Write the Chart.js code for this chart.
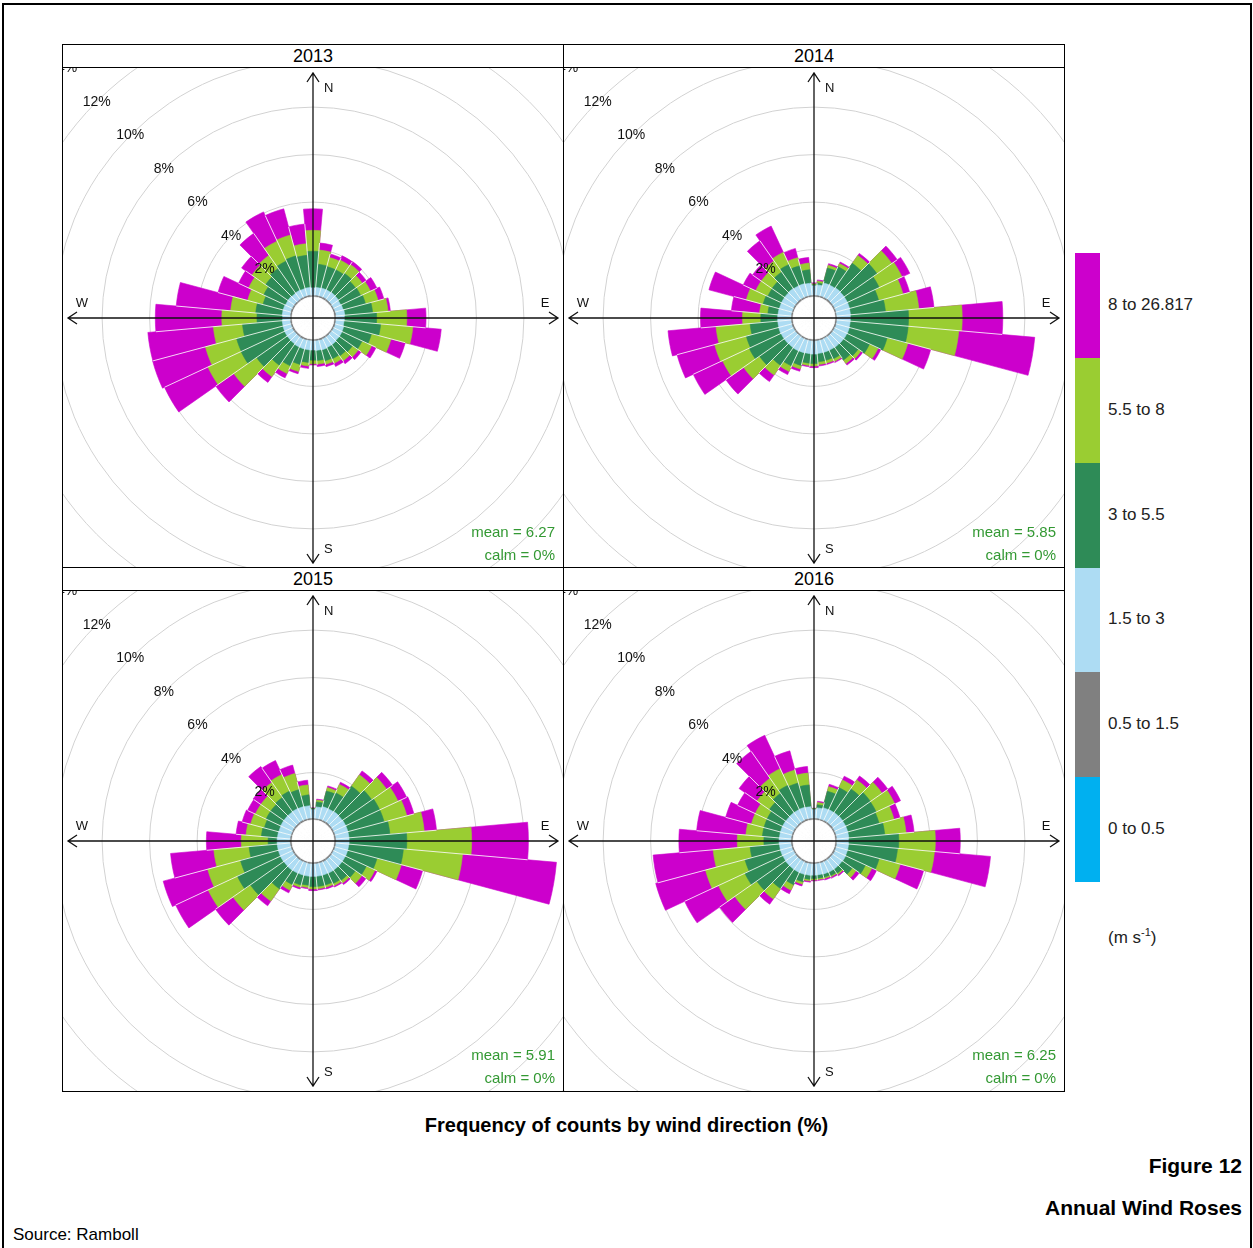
<!DOCTYPE html>
<html>
<head>
<meta charset="utf-8">
<title>Annual Wind Roses</title>
<script src="https://cdn.jsdelivr.net/npm/chart.js@4.4.1/dist/chart.umd.min.js"></script>
<style>
  html, body { margin: 0; padding: 0; background: #fff; }
  body { position: relative; width: 1253px; height: 1248px; overflow: hidden;
         font-family: "Liberation Sans", Arial, sans-serif; color: #000; }
  #frame { position: absolute; left: 2px; top: 3px; width: 1250px; height: 1300px;
           border: 2px solid #000; box-sizing: border-box; }
  .strip { position: absolute; width: 502px; height: 24px; border: 1px solid #000; box-sizing: border-box;
           text-align: center; font-size: 18px; line-height: 22px; background: #fff; }
  .plot { position: absolute; width: 502px; border: 1px solid #000; box-sizing: border-box;
          overflow: hidden; background: #fff; }
  .plot canvas { position: absolute; left: -130px; top: -130px; }
  .key { position: absolute; left: 1075px; width: 25px; }
  .keylab { position: absolute; left: 1108px; font-size: 17px; color: #222; transform: translateY(-50%); white-space: nowrap; }
  #title { position: absolute; left: 0; width: 1253px; top: 1114px; text-align: center; font-size: 20px; font-weight: bold; }
  .fig { position: absolute; right: 11px; font-size: 21px; font-weight: bold; text-align: right; }
  #source { position: absolute; left: 13px; top: 1225px; font-size: 17px; }
</style>
</head>
<body>
<div id="frame"></div>
<div id="panels"></div>
<div id="legend"></div>
<div id="title">Frequency of counts by wind direction (%)</div>
<div class="fig" style="top:1154px">Figure 12</div>
<div class="fig" style="top:1196px">Annual Wind Roses</div>
<div id="source">Source: Ramboll</div>

<script>
// wind directions (degrees, clockwise from north), 10 degree bins
const DIRECTIONS = [0, 10, 20, 30, 40, 50, 60, 70, 80, 90, 100, 110, 120, 130, 140, 150, 160, 170,
                    180, 190, 200, 210, 220, 230, 240, 250, 260, 270, 280, 290, 300, 310, 320, 330, 340, 350];

const YEARS = ["2013", "2014", "2015", "2016"];
const MEAN_SPEED = ["6.27", "5.85", "5.91", "6.25"];
const CALM_PCT = ["0", "0", "0", "0"];

// speed bins (m/s), legend order bottom -> top
const BIN_LABELS = ["0 to 0.5", "0.5 to 1.5", "1.5 to 3", "3 to 5.5", "5.5 to 8", "8 to 26.817"];
const BIN_COLORS = ["#00b0f0", "#808080", "#addcf3", "#2e8b57", "#9acd32", "#cc00cc"];

// percentage rings
const RING_TICKS = [2, 4, 6, 8, 10, 12, 14];

// frequency (%) per direction and speed bin
const Y2013_GREY  = [.06,.07,.07,.08,.07,.07,.06,.07,.08,.07,.07,.08,.07,.06,.07,.07,.08,.07,.07,.06,.07,.08,.07,.07,.08,.07,.07,.06,.07,.08,.07,.07,.06,.07,.07,.08];
const Y2013_BLUE  = [.33,.34,.36,.35,.37,.36,.35,.36,.38,.37,.36,.38,.40,.41,.42,.42,.43,.42,.40,.41,.40,.39,.38,.37,.36,.36,.35,.34,.35,.34,.33,.34,.33,.34,.33,.33];
const Y2013_DKGRN = [1.54,.98,.93,.93,.98,.88,.93,.98,1.18,1.36,1.55,1.21,.93,.68,.58,.53,.48,.43,.43,.53,.68,.88,1.11,1.58,2.02,2.02,1.68,1.08,1.12,.88,1.01,1.15,1.28,1.36,1.43,1.36];
const Y2013_LTGRN = [.88,.60,.40,.45,.45,.35,.45,.55,.65,1.27,1.36,.85,.45,.30,.25,.20,.15,.15,.15,.15,.30,.35,.57,1.17,1.54,1.36,1.23,1.48,1.06,.67,.70,.70,.67,.92,.91,.49];
const Y2013_MAG   = [.91,.30,.15,.20,.15,.20,.30,.25,.10,.81,1.20,.62,.20,.15,.15,.15,.10,.10,.05,.10,.10,.20,.30,.93,2.02,2.30,2.77,2.80,2.30,1.29,.47,.53,1.13,1.36,1.14,.83];

const Y2014_GREY  = [.07,.07,.07,.07,.08,.07,.07,.07,.06,.07,.07,.08,.07,.07,.07,.06,.07,.07,.08,.07,.07,.07,.06,.07,.07,.08,.07,.07,.07,.06,.07,.07,.08,.07,.07,.07];
const Y2014_BLUE  = [.41,.45,.58,.58,.60,.60,.60,.60,.60,.58,.58,.58,.58,.57,.56,.56,.55,.55,.56,.56,.57,.58,.58,.58,.58,.58,.58,.58,.57,.57,.56,.56,.56,.55,.55,.52];
const Y2014_DKGRN = [.04,.08,.65,.85,1.25,1.69,1.48,1.27,1.48,2.45,2.45,1.65,1.05,.75,.65,.40,.35,.35,.40,.40,.55,.70,.92,1.27,1.48,1.41,1.17,.71,.43,.71,.64,.65,.85,.99,.78,.57];
const Y2014_LTGRN = [.04,.08,.12,.15,.40,.76,1.06,1.06,1.41,2.26,2.14,.90,.40,.15,.18,.12,.12,.12,.10,.10,.15,.25,.49,.82,1.24,1.38,1.44,.77,.35,.73,.56,.55,.56,.56,.35,.28];
const Y2014_MAG   = [.04,.05,.07,.07,.11,.28,.36,.29,.64,1.71,3.21,1.00,.13,.09,.08,.05,.06,.06,.07,.05,.10,.15,.34,.91,1.36,1.64,2.03,1.77,1.19,1.63,.58,.45,1.04,1.22,.40,.24];

const Y2015_GREY  = [.07,.06,.07,.07,.08,.07,.07,.07,.07,.08,.07,.07,.06,.07,.07,.08,.07,.07,.07,.07,.06,.07,.08,.07,.07,.07,.07,.08,.07,.06,.07,.07,.07,.08,.07,.07];
const Y2015_BLUE  = [.38,.50,.55,.55,.56,.56,.57,.57,.57,.56,.56,.56,.56,.55,.55,.54,.54,.54,.54,.54,.55,.55,.55,.55,.56,.56,.56,.55,.55,.55,.55,.55,.55,.55,.55,.54];
const Y2015_DKGRN = [.03,.21,.68,.74,1.30,1.51,1.58,1.58,1.73,2.43,2.31,1.28,.98,.68,.53,.48,.43,.43,.43,.38,.43,.53,.95,1.72,2.00,1.65,1.19,.38,.68,.63,.68,.68,.74,.81,.74,.46];
const Y2015_LTGRN = [.02,.08,.15,.39,.58,.77,.85,.99,1.45,2.73,2.50,1.06,.40,.34,.13,.10,.10,.10,.10,.10,.10,.25,.63,.89,1.36,1.43,1.49,1.13,.65,.60,.50,.50,.77,.77,.70,.42];
const Y2015_MAG   = [.02,.04,.07,.10,.20,.30,.40,.31,.52,2.39,3.97,.93,.10,.21,.08,.06,.07,.05,.07,.05,.07,.13,.24,.90,1.51,1.94,1.83,1.47,.42,.37,.36,.40,.82,.65,.37,.20];

const Y2016_GREY  = [.07,.07,.06,.07,.07,.08,.07,.07,.07,.06,.07,.07,.08,.07,.07,.07,.07,.06,.07,.07,.08,.07,.07,.07,.06,.07,.07,.08,.07,.07,.07,.06,.07,.07,.08,.07];
const Y2016_BLUE  = [.38,.45,.51,.51,.52,.52,.52,.52,.52,.51,.51,.51,.51,.50,.50,.50,.49,.49,.49,.50,.50,.51,.51,.51,.51,.51,.51,.51,.51,.51,.51,.51,.51,.51,.51,.50];
const Y2016_DKGRN = [.02,.13,.72,1.02,1.22,1.42,1.42,1.37,1.52,2.12,2.07,1.38,.92,.52,.22,.17,.14,.14,.14,.17,.32,.57,.99,1.48,1.76,1.55,1.24,.64,.72,.72,.72,.85,.99,1.13,1.06,.92];
const Y2016_LTGRN = [.02,.10,.20,.35,.45,.60,.85,.65,.90,1.54,1.56,.92,.30,.20,.06,.05,.06,.06,.06,.07,.10,.25,.53,1.13,1.23,1.72,1.56,1.12,.70,.55,.55,.63,.77,.77,.56,.50];
const Y2016_MAG   = [.01,.05,.10,.18,.20,.30,.28,.26,.34,1.05,2.37,1.02,.22,.16,.06,.06,.06,.04,.04,.05,.08,.17,.27,.78,1.57,2.17,2.54,2.46,2.08,1.12,.82,.92,1.39,1.55,.84,.28];

const ROSE_BINS = [
  [Y2013_GREY, Y2013_BLUE, Y2013_DKGRN, Y2013_LTGRN, Y2013_MAG],
  [Y2014_GREY, Y2014_BLUE, Y2014_DKGRN, Y2014_LTGRN, Y2014_MAG],
  [Y2015_GREY, Y2015_BLUE, Y2015_DKGRN, Y2015_LTGRN, Y2015_MAG],
  [Y2016_GREY, Y2016_BLUE, Y2016_DKGRN, Y2016_LTGRN, Y2016_MAG]
];

// radial axis: a small offset below 0 leaves the white hole in the middle
const R_MIN = -0.88;
const R_MAX = 15.12;
const CANVAS = 760;
const ARROW = 245;

Chart.defaults.font.family = '"Liberation Sans", Arial, sans-serif';

const roseDecor = {
  id: "roseDecor",
  afterDatasetsDraw(chart, args, opts) {
    const ctx = chart.ctx;
    const r = chart.scales.r;
    const cx = r.xCenter, cy = r.yCenter;
    const sets = chart.data.datasets.length;
    const inner = chart.getDatasetMeta(1).data;
    const outer = chart.getDatasetMeta(sets - 1).data;
    const n = outer.length;

    // thin white lines between the direction wedges
    ctx.save();
    ctx.strokeStyle = "rgba(255,255,255,0.9)";
    ctx.lineWidth = 0.9;
    for (let i = 0; i < n; i++) {
      const a = outer[i].startAngle;
      const from = inner[i].outerRadius;
      const len = Math.min(outer[i].outerRadius, outer[(i + n - 1) % n].outerRadius);
      ctx.beginPath();
      ctx.moveTo(cx + from * Math.cos(a), cy + from * Math.sin(a));
      ctx.lineTo(cx + len * Math.cos(a), cy + len * Math.sin(a));
      ctx.stroke();
    }

    // compass axes with open arrow heads
    ctx.strokeStyle = "#111";
    ctx.lineWidth = 1.3;
    [[0, -1], [1, 0], [0, 1], [-1, 0]].forEach(([dx, dy]) => {
      const tx = cx + dx * ARROW, ty = cy + dy * ARROW;
      const px = -dy, py = dx;
      ctx.beginPath();
      ctx.moveTo(cx, cy);
      ctx.lineTo(tx, ty);
      ctx.moveTo(tx - dx * 9 + px * 6, ty - dy * 9 + py * 6);
      ctx.lineTo(tx, ty);
      ctx.lineTo(tx - dx * 9 - px * 6, ty - dy * 9 - py * 6);
      ctx.stroke();
    });

    ctx.fillStyle = "#111";
    ctx.font = '13px "Liberation Sans", Arial, sans-serif';
    ctx.textBaseline = "middle";
    ctx.textAlign = "left";
    ctx.fillText("N", cx + 11, cy - ARROW + 15);
    ctx.fillText("S", cx + 11, cy + ARROW - 14);
    ctx.textAlign = "center";
    ctx.fillText("E", cx + ARROW - 13, cy - 15);
    ctx.fillText("W", cx - ARROW + 14, cy - 15);

    // percentage labels along the north-west diagonal
    ctx.font = '14px "Liberation Sans", Arial, sans-serif';
    RING_TICKS.forEach(v => {
      const d = r.getDistanceFromCenterForValue(v) / Math.SQRT2;
      ctx.fillText(v + "%", cx - d, cy - d);
    });

    // mean / calm note
    ctx.fillStyle = "#339933";
    ctx.font = '15px "Liberation Sans", Arial, sans-serif';
    ctx.textAlign = "right";
    ctx.textBaseline = "alphabetic";
    ctx.fillText("mean = " + opts.mean, cx + 242, cy + 219);
    ctx.fillText("calm = " + opts.calm + "%", cx + 242, cy + 242);
    ctx.restore();
  }
};

function drawRose(canvas, bins, mean, calm) {
  // polarArea arcs start at the centre, so the bins are stacked as running totals
  // and drawn with the smallest total on top
  let run = DIRECTIONS.map(() => 0);
  const layers = bins.map((bin, k) => {
    run = run.map((s, i) => s + bin[i]);
    const col = BIN_COLORS[k + 1];
    return { label: BIN_LABELS[k + 1], data: run, backgroundColor: col, borderColor: col, borderWidth: 0.6 };
  });
  const hole = { label: "hole", data: DIRECTIONS.map(() => 0), backgroundColor: "#fff", borderColor: "#fff", borderWidth: 1 };

  return new Chart(canvas.getContext("2d"), {
    type: "polarArea",
    data: { labels: DIRECTIONS.map(d => d + "°"), datasets: [hole, ...layers] },
    options: {
      responsive: false,
      animation: false,
      events: [],
      layout: { padding: 0 },
      plugins: { legend: { display: false }, tooltip: { enabled: false }, roseDecor: { mean, calm } },
      scales: {
        r: {
          min: R_MIN,
          max: R_MAX,
          startAngle: -5,
          ticks: { display: false },
          grid: { color: "#d2d2d2", lineWidth: 1, circular: true },
          angleLines: { display: false },
          pointLabels: { display: false },
          afterBuildTicks: s => { s.ticks = RING_TICKS.map(v => ({ value: v })); }
        }
      }
    },
    plugins: [roseDecor]
  });
}

const panels = document.getElementById("panels");
const PANEL_X = [62, 563];
const PANEL_Y = [44, 567];
YEARS.forEach((year, i) => {
  const x = PANEL_X[i % 2], y = PANEL_Y[Math.floor(i / 2)];
  const strip = document.createElement("div");
  strip.className = "strip";
  strip.style.left = x + "px";
  strip.style.top = y + "px";
  strip.textContent = year;
  const plot = document.createElement("div");
  plot.className = "plot";
  plot.style.left = x + "px";
  plot.style.top = (y + 23) + "px";
  plot.style.height = (i < 2 ? 501 : 502) + "px";
  const cv = document.createElement("canvas");
  cv.width = CANVAS;
  cv.height = CANVAS;
  cv.style.width = CANVAS + "px";
  cv.style.height = CANVAS + "px";
  plot.appendChild(cv);
  panels.appendChild(plot);
  panels.appendChild(strip);
  drawRose(cv, ROSE_BINS[i], MEAN_SPEED[i], CALM_PCT[i]);
});

// colour key
const legend = document.getElementById("legend");
const KEY_TOP = 253, KEY_STEP = 104.7;
BIN_LABELS.forEach((lab, k) => {
  const top = KEY_TOP + (BIN_LABELS.length - 1 - k) * KEY_STEP;
  const sw = document.createElement("div");
  sw.className = "key";
  sw.style.top = top + "px";
  sw.style.height = KEY_STEP + 0.5 + "px";
  sw.style.background = BIN_COLORS[k];
  legend.appendChild(sw);
  const t = document.createElement("div");
  t.className = "keylab";
  t.style.top = (top + KEY_STEP / 2) + "px";
  t.textContent = lab;
  legend.appendChild(t);
});
const unit = document.createElement("div");
unit.className = "keylab";
unit.style.top = "937px";
unit.innerHTML = "(m s<sup style=\"font-size:11px\">-1</sup>)";
legend.appendChild(unit);
</script>
</body>
</html>
